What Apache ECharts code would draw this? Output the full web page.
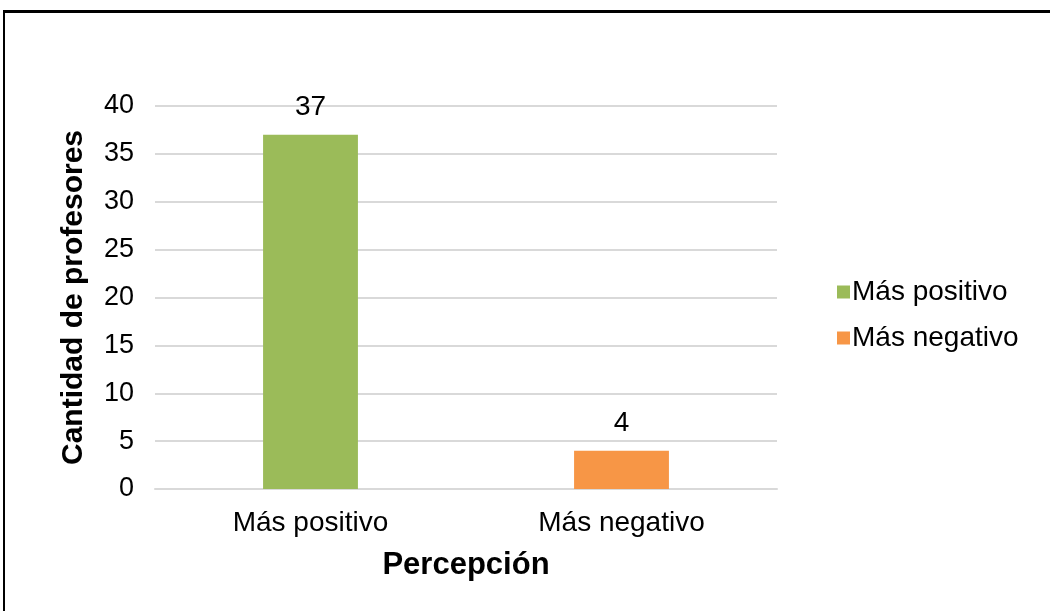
<!DOCTYPE html>
<html><head><meta charset="utf-8">
<script src="https://cdn.jsdelivr.net/npm/echarts@6/dist/echarts.min.js"></script>
<style>
html,body{margin:0;padding:0;background:#fff;}
#frame{position:absolute;left:3px;top:10px;width:1047px;height:601px;border-top:3px solid #000;border-left:2px solid #000;box-sizing:border-box;}
#chart{position:absolute;left:0;top:0;width:1050px;height:611px;}
</style></head>
<body>
<div id="frame"></div>
<div id="chart"></div>
<script>
const categories = ['Más positivo', 'Más negativo'];
const seriesNames = ['Más positivo', 'Más negativo'];
const positiveValues = [37, null];
const negativeValues = [null, 4];
const colors = ['#9bbb59', '#f79646'];
const yTitle = 'Cantidad de profesores';
const xTitle = 'Percepción';

const chart = echarts.init(document.getElementById('chart'));
const font = 'Liberation Sans, Arial, sans-serif';
const labelCfg = {show: true, position: 'top', distance: 13, color: '#000', fontSize: 28, fontFamily: font};
chart.setOption({
  animation: false,
  textStyle: {fontFamily: font},
  grid: {left: 155, right: 273, top: 106, bottom: 122},
  legend: {
    orient: 'vertical', left: 832, top: 273, itemGap: 18,
    itemWidth: 13, itemHeight: 13, icon: 'rect',
    textStyle: {fontSize: 28, color: '#000', fontFamily: font, padding: [0, 0, 0, -3]},
    data: seriesNames
  },
  xAxis: {
    type: 'category', data: categories,
    axisLine: {lineStyle: {color: '#d9d9d9', width: 2}},
    axisTick: {show: false},
    axisLabel: {fontSize: 28, color: '#000', margin: 20, fontFamily: font},
    name: xTitle, nameLocation: 'middle', nameGap: 61,
    nameTextStyle: {fontSize: 31, fontWeight: 'bold', color: '#000', fontFamily: font}
  },
  yAxis: {
    type: 'value', min: 0, max: 40, interval: 5,
    axisLine: {show: false}, axisTick: {show: false},
    splitLine: {lineStyle: {color: '#d9d9d9', width: 2}},
    axisLabel: {fontSize: 27, color: '#000', margin: 21, fontFamily: font},
    name: yTitle, nameLocation: 'middle', nameGap: 66, nameRotate: 90,
    nameTextStyle: {fontSize: 30, fontWeight: 'bold', color: '#000', fontFamily: font}
  },
  series: [
    {name: seriesNames[0], type: 'bar', stack: 's', data: positiveValues, barWidth: '30.5%',
     itemStyle: {color: colors[0]}, label: labelCfg},
    {name: seriesNames[1], type: 'bar', stack: 's', data: negativeValues, barWidth: '30.5%',
     itemStyle: {color: colors[1]}, label: labelCfg}
  ]
});
</script>
</body></html>
